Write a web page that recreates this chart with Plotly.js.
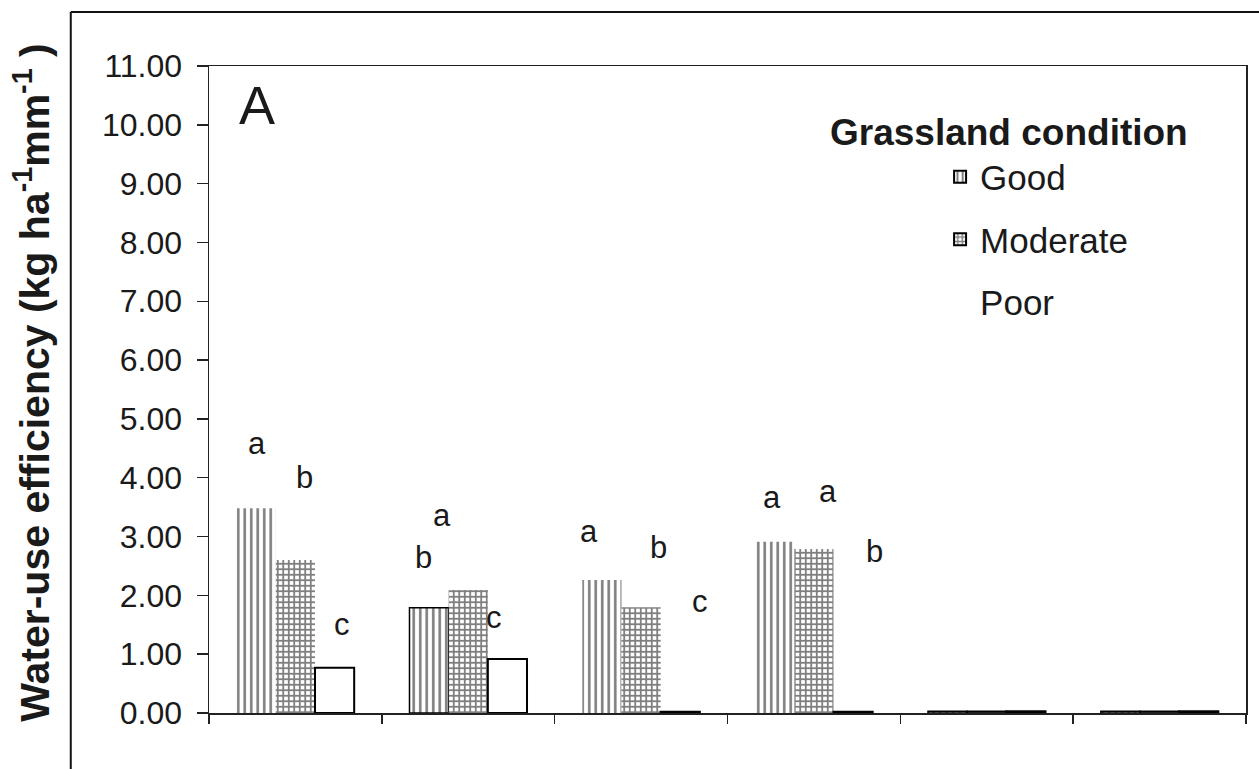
<!DOCTYPE html>
<html>
<head>
<meta charset="utf-8">
<script src="https://cdn.plot.ly/plotly-3.0.1.min.js"></script>
<style>
html,body{margin:0;padding:0;background:#fff;}
#chart{width:1259px;height:769px;}
</style>
</head>
<body>
<div id="chart"></div>
<script>
// ---- data ----
const categories = [1, 2, 3, 4, 5, 6];
const seriesNames = ['Good', 'Moderate', 'Poor'];
const goodValues = [3.48, 1.79, 2.26, 2.91, 0.03, 0.03];
const moderateValues = [2.60, 2.09, 1.80, 2.79, 0.03, 0.03];
const poorValues = [0.77, 0.92, 0.02, 0.02, 0.03, 0.03];
const yTickValues = [0, 1, 2, 3, 4, 5, 6, 7, 8, 9, 10, 11];
const yTickLabels = ['0.00', '1.00', '2.00', '3.00', '4.00', '5.00', '6.00', '7.00', '8.00', '9.00', '10.00', '11.00'];
// significance letters per group (Good, Moderate, Poor)
const letterText = [['a', 'b', 'c'], ['b', 'a', 'c'], ['a', 'b', 'c'], ['a', 'a', 'b']];
const letterY = [[4.59, 4.01, 1.50], [2.64, 3.35, 1.63], [3.08, 2.82, 1.90], [3.67, 3.76, 2.74]];
const letterOffset = [[-0.22, 0.05, 0.27], [-0.26, -0.15, 0.15], [-0.30, 0.10, 0.34], [-0.24, 0.08, 0.35]];
const panelLabel = 'A';
const legendTitle = 'Grassland condition';
const yTitle = 'Water-use efficiency (kg ha<sup>-1</sup>mm<sup>-1</sup> )';

const FONT = 'Liberation Sans, Arial, sans-serif';

const traces = [
  {
    type: 'bar', name: seriesNames[0], x: categories, y: goodValues, legendgroup: 'g1',
    marker: {
      color: '#ffffff',
      pattern: {shape: '|', size: 6.5, solidity: 0.4, fgcolor: '#000000', bgcolor: '#ffffff', fillmode: 'overlay'},
      line: {color: '#000000', width: [0, 1.5, 0, 0, 1.5, 1.5]}
    },
    hoverinfo: 'skip'
  },
  {
    type: 'bar', name: seriesNames[1], x: categories, y: moderateValues, legendgroup: 'g2',
    marker: {
      color: '#ffffff',
      pattern: {shape: '+', size: 5.5, solidity: 0.55, fgcolor: '#000000', bgcolor: '#ffffff', fillmode: 'overlay'},
      line: {color: '#000000', width: [0, 0, 0, 0, 1.5, 1.5]}
    },
    hoverinfo: 'skip'
  },
  {
    type: 'bar', name: seriesNames[2], x: categories, y: poorValues, legendgroup: 'g3',
    marker: {color: '#ffffff', line: {color: '#000000', width: 2}},
    hoverinfo: 'skip'
  }
];

const annotations = [];
letterText.forEach((grp, gi) => {
  grp.forEach((t, si) => {
    annotations.push({
      x: categories[gi] + letterOffset[gi][si], y: letterY[gi][si],
      xref: 'x', yref: 'y', text: t, showarrow: false,
      xanchor: 'center', yanchor: 'middle',
      font: {family: FONT, size: 31, color: '#1a1a1a'}
    });
  });
});
// panel label
annotations.push({
  xref: 'paper', yref: 'paper', x: 0.027, y: 0.94, text: panelLabel, showarrow: false,
  xanchor: 'left', yanchor: 'middle', font: {family: FONT, size: 54, color: '#1a1a1a'}
});
// legend title
annotations.push({
  xref: 'paper', yref: 'paper', x: 0.946, y: 0.897, text: '<b>' + legendTitle + '</b>', showarrow: false,
  xanchor: 'right', yanchor: 'middle', font: {family: FONT, size: 37, color: '#1a1a1a'}
});
// y-axis title
annotations.push({
  xref: 'paper', yref: 'paper', x: -0.171, y: 0.51, text: '<b>' + yTitle + '</b>', showarrow: false,
  textangle: -90, xanchor: 'center', yanchor: 'middle', font: {family: FONT, size: 41, color: '#1a1a1a'}
});

const layout = {
  width: 1259, height: 769,
  margin: {l: 209, r: 13, t: 66, b: 56, pad: 0},
  paper_bgcolor: '#ffffff', plot_bgcolor: '#ffffff',
  barmode: 'group', bargap: 0.32, bargroupgap: 0,
  showlegend: true,
  legend: {
    x: 0.705, y: 0.874, xanchor: 'left', yanchor: 'top',
    font: {family: FONT, size: 35, color: '#1a1a1a'},
    bgcolor: 'rgba(0,0,0,0)', borderwidth: 0,
    traceorder: 'grouped', itemwidth: 30, itemsizing: 'constant',
    tracegroupgap: 14
  },
  xaxis: {
    range: [0.5, 6.5], showgrid: false, zeroline: false,
    showline: true, linecolor: '#222', linewidth: 1.5, mirror: true,
    tickmode: 'array', tickvals: [0.5, 1.5, 2.5, 3.5, 4.5, 5.5, 6.5], showticklabels: false,
    ticks: 'outside', ticklen: 9, tickcolor: '#222', tickwidth: 1.5,
    fixedrange: true
  },
  yaxis: {
    range: [0, 11], showgrid: false, zeroline: false,
    showline: true, linecolor: '#222', linewidth: 1.5, mirror: true,
    tickmode: 'array', tickvals: yTickValues, ticktext: yTickLabels,
    ticks: 'outside', ticklen: 11, tickcolor: '#222', tickwidth: 1.5,
    ticklabelstandoff: 8,
    tickfont: {family: FONT, size: 32, color: '#1a1a1a'},
    fixedrange: true
  },
  annotations: annotations,
  shapes: [
    {type: 'line', xref: 'paper', yref: 'paper', x0: -0.1333, x1: 1.02, y0: 1.0835, y1: 1.0835, line: {color: '#111', width: 2}},
    {type: 'line', xref: 'paper', yref: 'paper', x0: -0.1333, x1: -0.1333, y0: 1.0835, y1: -0.1, line: {color: '#111', width: 2}}
  ]
};

Plotly.newPlot('chart', traces, layout, {displayModeBar: false, staticPlot: true}).then(function (gd) {
  // the reference shows no swatch next to "Poor"
  const items = gd.querySelectorAll('.legend .traces');
  items.forEach(function (el) {
    const txt = el.querySelector('.legendtext');
    if (txt && txt.textContent === seriesNames[2]) {
      const pts = el.querySelector('.legendpoints');
      if (pts) pts.style.display = 'none';
    }
  });
});
</script>
</body>
</html>
